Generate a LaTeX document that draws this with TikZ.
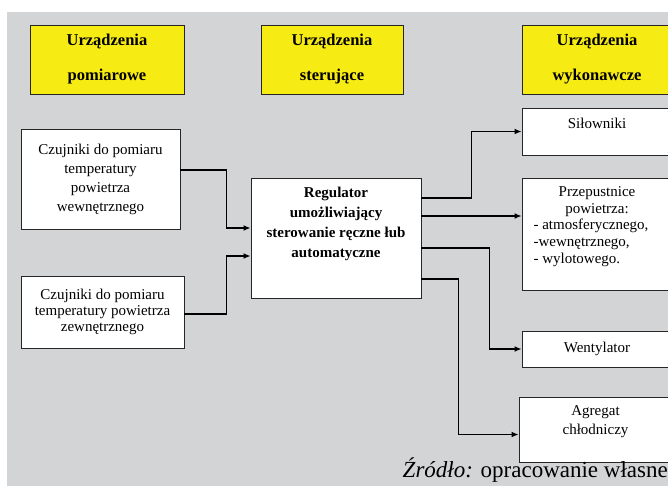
\documentclass[tikz,border=0pt]{standalone}
\usepackage{fontspec}
\setmainfont{Liberation Serif}
\usetikzlibrary{arrows.meta,positioning}
\definecolor{bggray}{RGB}{211,212,214}
\definecolor{hdryellow}{RGB}{247,235,20}

\begin{document}
\begin{tikzpicture}[x=1pt, y=-1pt,
    hdr/.style={draw=black!85, line width=0.9pt, fill=hdryellow, minimum height=69pt, inner sep=0pt, align=center, font=\fontsize{16.5}{35}\selectfont\bfseries},
    wbox/.style={draw=black!85, line width=0.9pt, fill=white, inner sep=0pt, align=center, font=\fontsize{15}{19}\selectfont},
    btext/.style={inner sep=0pt, align=center, font=\fontsize{15}{19}\selectfont},
    conn/.style={line width=1.5pt, -{Latex[length=7pt,width=6pt]}}]
        \useasboundingbox (0,0) rectangle (668,486);
        % background
        \fill[bggray] (7,12) rectangle (668,486);

        % headers
        \node[hdr, minimum width=154pt] (hpom) at (107,59.5) {Urządzenia\\pomiarowe};
        \node[hdr, minimum width=142pt] (hster) at (332,59.5) {Urządzenia\\sterujące};
        \node[hdr, minimum width=150pt] (hwyk) at (597,59.5) {Urządzenia\\wykonawcze};

        % sensors
        \node[wbox, minimum width=159pt, minimum height=100pt] (czw) at (100.5,179) {Czujniki do pomiaru\\temperatury\\powietrza\\wewnętrznego};
        \node[wbox, minimum width=163pt, minimum height=72pt, font=\fontsize{15}{16}\selectfont] (czz) at (102.5,312) {Czujniki do pomiaru\\temperatury powietrza\\zewnętrznego};

        % controller
        \node[wbox, minimum width=170pt, minimum height=120pt] (reg) at (336,238) {};
        \node[btext, font=\fontsize{15}{20}\selectfont\bfseries, below=9pt of reg.north] (regt) {Regulator\\umożliwiający\\sterowanie ręczne łub\\automatyczne};

        % actuators
        \node[wbox, minimum width=150pt, minimum height=47pt] (sil) at (597,131.5) {};
        \node[btext, below=10pt of sil.north] (silt) {Siłowniki};
        \node[wbox, minimum width=150pt, minimum height=112pt] (prz) at (597,234) {};
        \node[btext, font=\fontsize{15}{17}\selectfont, below=9pt of prz.north] (przt) {Przepustnice\\powietrza:\\\begin{tabular}{@{}l@{\hspace{12pt}}}- atmosferycznego,\\-wewnętrznego,\\- wylotowego.\end{tabular}};
        \node[wbox, minimum width=150pt, minimum height=36pt] (wen) at (597,349) {Wentylator};
        \node[wbox, minimum width=153pt, minimum height=65pt] (agr) at (595.5,429.5) {};
        \node[btext, below=9pt of agr.north] (agrt) {Agregat\\chłodniczy};

        % lines
        \draw[conn] ([yshift=9pt]czw.east) -| ([xshift=-24pt,yshift=10pt]reg.west) -- ([yshift=10pt]reg.west);
        \draw[conn] ([yshift=-2pt]czz.east) -| ([xshift=-24pt,yshift=-18pt]reg.west) -- ([yshift=-18pt]reg.west);
        \draw[conn] ([yshift=40pt]reg.east) -| ([xshift=-50pt]sil.west) -- (sil.west);
        \draw[conn] ([yshift=22pt]reg.east) -- ([yshift=18pt]prz.west);
        \draw[conn] ([yshift=-10pt]reg.east) -| ([xshift=-32pt]wen.west) -- (wen.west);
        \draw[conn] ([yshift=-41pt]reg.east) -| ([xshift=-60pt,yshift=-5pt]agr.west) -- ([yshift=-5pt]agr.west);

        % source
        \node[anchor=base east, inner sep=0pt, font=\fontsize{23}{23}\selectfont] (src) at (668,477) {\textit{Źródło:} opracowanie własne};
    \end{tikzpicture}
\end{document}
